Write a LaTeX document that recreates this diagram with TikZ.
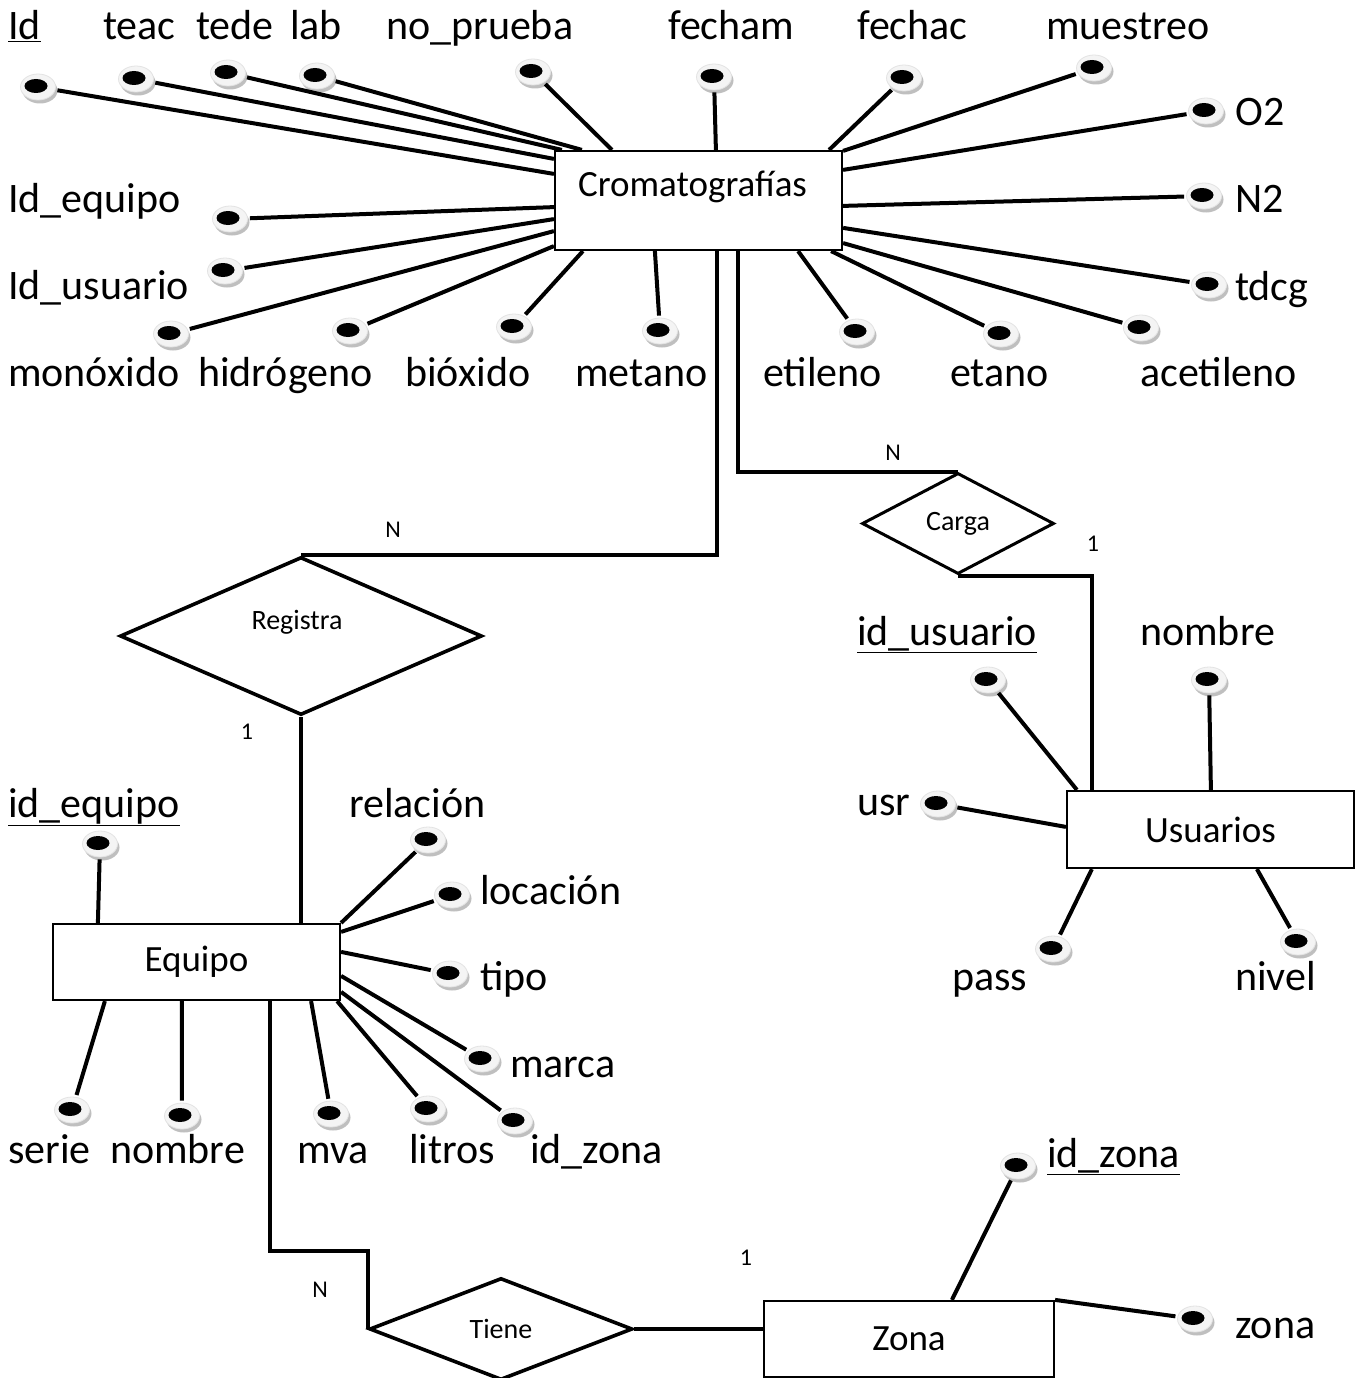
\documentclass[tikz,border=0pt]{standalone}
\usepackage{fontspec}
\setmainfont{Carlito}
\usetikzlibrary{shapes.geometric,shadows,calc}

\begin{document}
\begin{tikzpicture}[x=1pt,y=-1pt,
  conn/.style={line width=4pt},
  entity/.style={draw, rectangle, line width=2.2pt, inner sep=0pt, fill=white,
    font=\fontsize{37}{44}\selectfont},
  rel/.style={draw, diamond, line width=3.6pt, inner sep=0pt, fill=white,
    font=\fontsize{28}{34}\selectfont},
  card/.style={font=\fontsize{24}{29}\selectfont, inner sep=0pt},
  attrtxt/.style={font=\fontsize{42}{50}\selectfont, inner sep=0pt, anchor=base west},
  attrdot/.style={ellipse, minimum width=35pt, minimum height=26pt, inner sep=0pt,
    fill=gray!9, draw=gray!22, line width=0.8pt,
    drop shadow={shadow xshift=2pt, shadow yshift=-3.5pt, fill=gray!50, opacity=1},
    path picture={\fill[black] ($(path picture bounding box.center)+(-2,-1)$)
      ellipse [x radius=11.5pt, y radius=7pt];}}
]
\fill[white] (0,0) rectangle (1355,1378);
\useasboundingbox (0,0) rectangle (1355,1378);

% entities
\node[entity, minimum width=287pt, minimum height=99pt] (crom) at (698.5,200.5)
  {\smash{\raisebox{4pt}{Cromatografías\hspace{12pt}}}};
\node[entity, minimum width=287pt, minimum height=77pt] (usu) at (1210.5,829.5) {Usuarios};
\node[entity, minimum width=287pt, minimum height=76pt] (equ) at (196.5,962) {Equipo};
\node[entity, minimum width=290pt, minimum height=76pt] (zona) at (909,1339) {Zona};

% relationships
\node[rel, minimum width=362pt, minimum height=158pt] (reg) at (301,636) {};
\node[font=\fontsize{28}{34}\selectfont, inner sep=0pt] (regtxt) at (297,622) {Registra};
\node[rel, line width=3pt, minimum width=192pt, minimum height=101pt] (carga) at (958,523.5) {Carga};
\node[rel, minimum width=263pt, minimum height=102pt] (tiene) at (501,1329) {Tiene};

% attribute markers and their names
\foreach \n/\dx/\dy/\lab/\lx/\ly in {
  aId/38/87/{\underline{Id}}/8/40,
  aTeac/136/79/teac/103/40,
  aTede/228/73/tede/196/40,
  aLab/317/76/lab/290/40,
  aNoP/533/72/no\_prueba/386/40,
  aFecham/714/77/fecham/668/40,
  aFechac/904/78/fechac/857/40,
  aMuest/1094/68/muestreo/1046/40,
  aO2/1206/111/O2/1235/125,
  aN2/1204/196/N2/1235/212,
  aTdcg/1209/285/tdcg/1235/300,
  aIdEq/230/219/Id\_equipo/8/212,
  aIdUs/225/271/Id\_usuario/8/299,
  aMonox/171/334/monóxido/8/386,
  aHidro/350/331/hidrógeno/198/386,
  aBiox/514/327/bióxido/405/386,
  aMetano/660/331/metano/575/386,
  aEtileno/857/332/etileno/763/386,
  aEtano/1001/334/etano/950/386,
  aAcet/1141/328/acetileno/1140/386,
  uId/988/680/{\underline{id\_usuario}}/857/645,
  uNombre/1209/680/nombre/1140/645,
  uUsr/938/804/usr/857/815,
  uPass/1053/949/pass/952/990,
  uNivel/1298/942/nivel/1235/990,
  eId/100/844/{\underline{id\_equipo}}/8/817,
  eRel/428/840/relación/349/817,
  eLoc/452/895/locación/480/904,
  eTipo/450/974/tipo/480/990,
  eMarca/482/1059/marca/510/1077,
  eIdZona/515/1121/id\_zona/530/1163,
  eLitros/428/1109/litros/409/1163,
  eMva/331/1114/mva/297/1163,
  eNombre/182/1116/nombre/110/1163,
  eSerie/72/1110/serie/8/1163,
  zId/1018/1166/{\underline{id\_zona}}/1047/1167,
  zZona/1195/1319/zona/1235/1338}
{
  \node[attrdot] (\n) at (\dx,\dy) {};
  \node[attrtxt] (\n-t) at (\lx,\ly) {\lab};
}

% attribute connectors
\foreach \n/\a/\ox/\oy in {
  aId/crom.north west/0/24,
  aTeac/crom.north west/0/9,
  aTede/crom.north west/8/0,
  aLab/crom.north west/28/0,
  aNoP/crom.north west/58/0,
  aFecham/crom.north west/162/0,
  aFechac/crom.north east/-14/0,
  aMuest/crom.north east/0/1,
  aO2/crom.north east/0/20,
  aN2/crom.north east/0/56,
  aTdcg/crom.north east/0/78,
  aAcet/crom.south east/0/-8,
  aEtano/crom.south east/-12/0,
  aEtileno/crom.south east/-45/0,
  aMetano/crom.south west/101/0,
  aBiox/crom.south west/29/0,
  aHidro/crom.south west/0/-5,
  aMonox/crom.south west/0/-20,
  aIdUs/crom.south west/0/-32,
  aIdEq/crom.south west/0/-44,
  uId/usu.north west/11/0,
  uNombre/usu.north west/145/0,
  uUsr/usu.north west/0/37,
  uPass/usu.south west/26/0,
  uNivel/usu.south west/191/0,
  eId/equ.north west/46/0,
  eRel/equ.north east/0/0,
  eLoc/equ.north east/0/9,
  eTipo/equ.north east/0/29,
  eMarca/equ.north east/0/53,
  eIdZona/equ.north east/0/69,
  eLitros/equ.south east/-4/0,
  eMva/equ.south east/-30/0,
  eNombre/equ.south west/130/0,
  eSerie/equ.south west/53/0,
  zId/zona.north west/189/0,
  zZona/zona.north east/0/0}
{
  \draw[conn, shorten <=2pt] (\n) -- ($(\a)+(\ox,\oy)$);
}

% relationship connectors
\draw[conn] ($(crom.south west)+(163,0)$) |- (reg.north);
\draw[conn] ($(crom.south west)+(184,0)$) |- (carga.north);
\draw[conn] (carga.south) -| ($(usu.north west)+(26,0)$);
\draw[conn] (reg.south) -- (reg.south |- equ.north);
\draw[conn] ($(equ.south west)+(218,0)$) -- ++(0,250) -| (tiene.west);
\draw[conn] (tiene.east) -- (tiene.east -| zona.west);

% cardinalities
\node[card] (c1) at (393,530) {N};
\node[card] (c2) at (247,732) {1};
\node[card] (c3) at (893,453) {N};
\node[card] (c4) at (1093,544) {1};
\node[card] (c5) at (320,1290) {N};
\node[card] (c6) at (746,1258) {1};
\end{tikzpicture}
\end{document}
